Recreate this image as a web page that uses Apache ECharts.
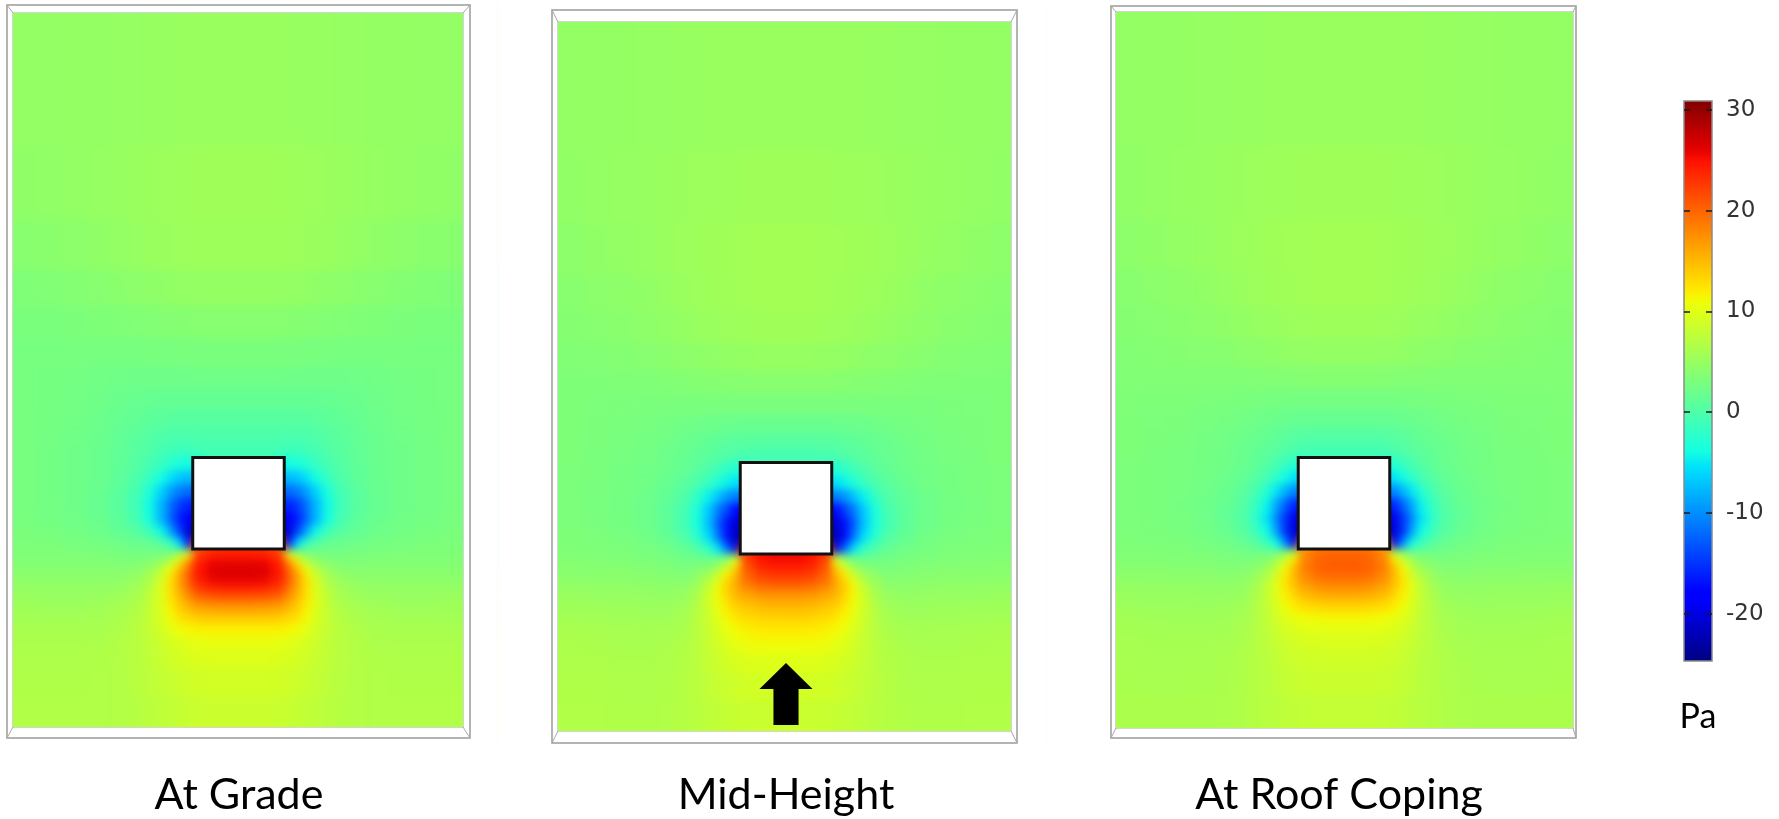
<!DOCTYPE html>
<html>
<head>
<meta charset="utf-8">
<script src="https://cdn.jsdelivr.net/npm/echarts@6/dist/echarts.min.js"></script>
<style>
  html, body { margin: 0; padding: 0; background: #fff; }
  #chart { width: 1779px; height: 819px; }
</style>
</head>
<body>
<div id="chart"></div>
<script>
// Wind pressure (Pa) on a horizontal cut around a square building, at three heights.
// Wind blows from the bottom of each panel. Lengths are in building widths:
// the building occupies x -0.5..0.5, y 0..1. Tables give the right half (x >= 0),
// the field is symmetric about x = 0. Rows run from the top of the panel downwards.

const panelTitles = ['At Grade', 'Mid-Height', 'At Roof Coping'];
const unitLabel = 'Pa';
const colorbarTicks = [30, 20, 10, 0, -10, -20];
const pressureMin = -24.7;
const pressureMax = 30.9;

// cell edges (building widths)
const colEdges = [0, 0.2, 0.35, 0.5, 0.6, 0.7, 0.8, 0.92, 1.05, 1.22, 1.42, 1.66, 1.94, 2.22, 2.75];
const rowEdges = [6.05, 4.4, 3.6, 3.05, 2.65, 2.3, 2.0, 1.75, 1.52, 1.32, 1.15, 1.0, 0.85, 0.7, 0.55,
  0.4, 0.25, 0.12, 0, -0.05, -0.12, -0.2, -0.28, -0.37, -0.47, -0.58, -0.7, -0.82, -0.95, -1.1, -1.3, -1.6, -2.15];

const building = [-0.5, 0.5, 0, 1];
const windArrow = [[0, -1.19], [0.29, -1.475], [0.137, -1.475], [0.137, -1.87],
  [-0.137, -1.87], [-0.137, -1.475], [-0.29, -1.475]];

const n = null;
const gradePressure = [
  [5.1,5.1,5.1,5.1,5.0,5.0,5.0,5.0,4.9,4.9,4.8,4.8,4.7,4.7],
  [5.5,5.5,5.5,5.4,5.4,5.3,5.3,5.2,5.1,5.0,4.9,4.7,4.6,4.5],
  [5.4,5.4,5.4,5.3,5.3,5.2,5.2,5.1,4.9,4.7,4.5,4.3,4.1,4.0],
  [4.8,4.8,4.8,4.7,4.7,4.6,4.5,4.4,4.3,4.1,3.9,3.7,3.5,3.4],
  [3.9,3.9,3.9,3.8,3.8,3.8,3.7,3.6,3.5,3.4,3.3,3.1,3.0,3.0],
  [3.0,3.0,3.0,3.0,3.0,2.9,2.9,2.9,2.8,2.8,2.8,2.8,2.8,2.8],
  [2.3,2.3,2.3,2.2,2.2,2.2,2.2,2.2,2.2,2.3,2.4,2.6,2.7,2.8],
  [1.5,1.5,1.5,1.5,1.5,1.5,1.5,1.6,1.7,1.9,2.2,2.5,2.7,2.8],
  [0.6,0.6,0.6,0.6,0.6,0.7,0.8,1.0,1.3,1.6,2.0,2.4,2.6,2.8],
  [-0.1,-0.1,-0.1,-0.2,-0.2,-0.1,0.1,0.5,0.9,1.4,1.9,2.3,2.6,2.8],
  [-0.7,-0.7,-0.8,-1.2,-1.3,-1.0,-0.5,0.1,0.7,1.3,1.8,2.2,2.5,2.8],
  [n,n,n,-4,-3.5,-2.6,-1.6,-0.5,0.5,1.2,1.8,2.2,2.5,2.8],
  [n,n,n,-7.5,-7,-5.5,-3.5,-1.6,0.1,1.1,1.8,2.2,2.5,2.8],
  [n,n,n,-12,-11,-9,-6,-3.2,-0.5,0.9,1.7,2.2,2.5,2.8],
  [n,n,n,-16,-14.5,-11.5,-7.5,-4,-0.9,0.8,1.7,2.2,2.5,2.8],
  [n,n,n,-19,-16,-12,-7.5,-3.6,-0.5,1.0,1.8,2.3,2.6,2.9],
  [n,n,n,-21,-14,-8.5,-4,-1.0,0.7,1.5,2.1,2.5,2.8,3.0],
  [n,n,n,-17,-6,-1.5,0.6,1.6,1.9,2.3,2.7,2.9,3.1,3.2],
  [23.5,23.3,22,6,3,2.4,2.4,2.3,2.5,2.8,3.0,3.2,3.3,3.35],
  [24.5,24.3,23,13,7.5,4.5,3.4,3.0,2.9,3.1,3.3,3.4,3.5,3.5],
  [26,25.8,24.3,18.5,12.5,8,5.3,4.0,3.5,3.5,3.6,3.7,3.7,3.7],
  [26.5,26.3,24.8,20,15.5,11,7.5,5.3,4.2,3.9,4.0,4.0,4.0,4.0],
  [26.2,26,24.5,20.5,16.5,12.5,8.8,6.2,4.9,4.4,4.3,4.3,4.3,4.3],
  [24.5,24.2,23,19.5,16,12.8,9.5,7.0,5.6,4.9,4.7,4.7,4.7,4.7],
  [21,20.8,20,17.5,15,12.5,9.8,7.5,6.1,5.4,5.1,5.0,5.0,5.1],
  [17,16.9,16.5,15.2,13.8,11.8,9.6,7.8,6.5,5.9,5.6,5.4,5.4,5.5],
  [14,14,13.8,13.2,12.6,11.1,9.4,8.0,6.9,6.3,5.9,5.8,5.8,5.8],
  [11.8,11.8,11.7,11.4,10.9,10.1,9.0,7.9,7.1,6.5,6.2,6.1,6.1,6.1],
  [10.5,10.5,10.4,10.1,9.7,9.2,8.5,7.8,7.1,6.7,6.4,6.3,6.3,6.3],
  [9.7,9.7,9.6,9.4,9.1,8.7,8.2,7.7,7.2,6.8,6.6,6.5,6.5,6.5],
  [9.0,9.0,8.9,8.7,8.5,8.2,7.9,7.5,7.1,6.8,6.7,6.6,6.6,6.6],
  [8.4,8.4,8.3,8.2,8.0,7.8,7.6,7.3,7.0,6.8,6.7,6.7,6.7,6.7]
];

const midPressure = [
  [5.1,5.1,5.1,5.1,5.1,5.1,5.0,5.0,5.0,4.9,4.9,4.8,4.8,4.7],
  [5.5,5.5,5.5,5.4,5.4,5.4,5.3,5.3,5.2,5.1,5.0,4.9,4.7,4.6],
  [5.8,5.8,5.7,5.7,5.6,5.6,5.5,5.4,5.3,5.1,4.9,4.7,4.5,4.3],
  [5.8,5.8,5.7,5.6,5.6,5.5,5.4,5.3,5.1,4.9,4.6,4.4,4.2,4.0],
  [5.5,5.5,5.4,5.3,5.3,5.2,5.1,5.0,4.8,4.6,4.4,4.1,3.9,3.8],
  [4.9,4.9,4.8,4.8,4.7,4.6,4.5,4.4,4.3,4.1,3.9,3.7,3.6,3.5],
  [4.0,4.0,4.0,3.9,3.9,3.8,3.8,3.7,3.6,3.5,3.4,3.4,3.3,3.3],
  [3.0,3.0,3.0,3.0,3.0,3.0,3.0,3.0,3.0,3.0,3.0,3.1,3.2,3.3],
  [1.8,1.8,1.8,1.9,1.9,2.0,2.1,2.2,2.4,2.6,2.8,3.0,3.1,3.3],
  [0.6,0.6,0.7,0.8,0.9,1.1,1.3,1.6,1.9,2.3,2.6,2.9,3.1,3.3],
  [-0.6,-0.6,-0.4,-0.2,0.1,0.5,0.9,1.3,1.7,2.1,2.5,2.8,3.0,3.3],
  [n,n,n,-3,-2,-1,0,0.8,1.5,2.0,2.4,2.7,3.0,3.2],
  [n,n,n,-5.5,-4.5,-3,-1.5,-0.2,0.9,1.7,2.3,2.7,3.0,3.2],
  [n,n,n,-11,-9.5,-7,-4.5,-1.8,0.2,1.3,2.1,2.6,2.9,3.2],
  [n,n,n,-18,-14,-11,-6.5,-3.2,-0.4,1.1,2.0,2.6,2.9,3.2],
  [n,n,n,-21,-17,-12.5,-7,-3.5,-0.5,1.1,2.1,2.7,3.0,3.2],
  [n,n,n,-22,-17,-11,-5.5,-2.2,0.2,1.5,2.4,2.9,3.1,3.3],
  [n,n,n,-20,-12,-5.5,-2,0.2,1.5,2.3,2.8,3.1,3.3,3.4],
  [25.5,25,23,6,2.5,1.5,1.5,1.8,2.1,2.7,3.1,3.3,3.45,3.55],
  [25,24.5,22,10.5,5,2.8,2.3,2.4,2.6,3.0,3.3,3.5,3.6,3.7],
  [24,23.5,21,14,9.5,6,4.2,3.5,3.1,3.4,3.6,3.8,3.9,3.9],
  [22.5,22,20,15.5,12,8.5,5.8,4.3,3.6,3.8,4.0,4.1,4.1,4.2],
  [21,20.5,19,16,13.5,10.5,7.3,5.2,4.1,4.2,4.3,4.4,4.4,4.5],
  [18,17.8,16.8,15.5,13.5,11.2,8.3,6.0,4.8,4.6,4.7,4.8,4.8,4.9],
  [16,15.8,15,14.3,12.8,11,8.7,6.6,5.3,5.0,5.1,5.2,5.2,5.3],
  [14.3,14.1,13.6,13,11.8,10.3,8.6,7.0,5.8,5.4,5.4,5.5,5.6,5.6],
  [12.9,12.8,12.4,11.8,11,9.8,8.4,7.1,6.1,5.8,5.8,5.8,5.9,6.0],
  [11.8,11.7,11.4,10.9,10.2,9.2,8.1,7.1,6.4,6.1,6.0,6.1,6.2,6.3],
  [10.8,10.7,10.5,10.1,9.6,8.9,8.1,7.3,6.7,6.3,6.2,6.2,6.3,6.4],
  [9.8,9.7,9.6,9.3,8.9,8.5,7.9,7.3,6.8,6.5,6.4,6.4,6.5,6.5],
  [9.0,9.0,8.9,8.7,8.4,8.1,7.7,7.3,6.9,6.6,6.5,6.5,6.6,6.6],
  [8.3,8.3,8.2,8.1,7.9,7.7,7.5,7.2,6.9,6.7,6.6,6.6,6.7,6.7]
];

const roofPressure = [
  [5.1,5.1,5.1,5.1,5.1,5.1,5.0,5.0,5.0,4.9,4.9,4.8,4.8,4.7],
  [5.5,5.5,5.5,5.4,5.4,5.4,5.3,5.3,5.2,5.1,5.0,4.9,4.7,4.6],
  [5.8,5.8,5.7,5.7,5.6,5.6,5.5,5.4,5.3,5.1,4.9,4.7,4.5,4.3],
  [5.8,5.8,5.7,5.6,5.6,5.5,5.4,5.3,5.1,4.9,4.6,4.4,4.2,4.0],
  [5.4,5.4,5.3,5.3,5.2,5.1,5.0,4.9,4.7,4.5,4.3,4.1,3.9,3.8],
  [4.8,4.8,4.7,4.7,4.6,4.5,4.4,4.3,4.2,4.0,3.9,3.8,3.7,3.6],
  [3.8,3.8,3.8,3.7,3.7,3.7,3.6,3.6,3.5,3.5,3.5,3.5,3.5,3.5],
  [2.7,2.7,2.7,2.7,2.7,2.8,2.8,2.9,3.0,3.1,3.2,3.3,3.3,3.4],
  [1.6,1.6,1.6,1.7,1.8,1.9,2.1,2.3,2.5,2.7,2.9,3.1,3.2,3.3],
  [0.4,0.4,0.5,0.7,0.9,1.2,1.5,1.8,2.1,2.4,2.7,3.0,3.1,3.3],
  [-0.7,-0.7,-0.5,-0.2,0.2,0.7,1.1,1.5,1.9,2.3,2.6,2.9,3.1,3.3],
  [n,n,n,-2.5,-1.5,-0.4,0.5,1.2,1.8,2.2,2.6,2.9,3.0,3.2],
  [n,n,n,-5.5,-4,-2.2,-0.6,0.6,1.4,2.0,2.5,2.8,3.0,3.2],
  [n,n,n,-10.5,-8,-5.2,-2.5,-0.4,1.0,1.8,2.4,2.8,3.0,3.2],
  [n,n,n,-16,-12.5,-8.5,-4.3,-1.3,0.6,1.6,2.3,2.7,3.0,3.2],
  [n,n,n,-20,-15,-10,-5,-1.8,0.4,1.5,2.3,2.8,3.0,3.2],
  [n,n,n,-21,-15,-8.5,-3.8,-0.8,0.9,1.8,2.5,2.9,3.1,3.2],
  [n,n,n,-19,-10,-4,-1,0.8,1.8,2.4,2.8,3.1,3.2,3.3],
  [19.5,19.3,17.5,5.5,2.8,2.2,2.2,2.3,2.5,2.8,3.1,3.3,3.4,3.45],
  [20,19.7,18,11,6.5,4.0,3.0,2.7,2.8,3.1,3.3,3.5,3.6,3.6],
  [20.5,20.2,18.5,14,10,6.5,4.5,3.6,3.3,3.4,3.6,3.7,3.8,3.8],
  [20.3,20,18.5,15,11.5,8,5.7,4.4,3.8,3.8,3.9,4.0,4.1,4.1],
  [19.3,19,17.5,15,12.5,9.5,6.8,5.2,4.3,4.2,4.3,4.3,4.4,4.4],
  [17.7,17.4,16.3,14.3,12.3,10,7.6,5.8,4.8,4.6,4.6,4.7,4.7,4.8],
  [15.6,15.4,14.6,13.2,11.6,9.7,7.8,6.2,5.2,4.9,4.9,5.0,5.0,5.1],
  [13.3,13.2,12.7,11.9,10.8,9.3,7.8,6.5,5.6,5.3,5.2,5.3,5.3,5.4],
  [11.3,11.2,11.0,10.5,9.8,8.8,7.6,6.7,5.9,5.6,5.5,5.5,5.6,5.7],
  [10.2,10.1,10.0,9.6,9.1,8.4,7.5,6.8,6.2,5.8,5.7,5.7,5.8,5.9],
  [9.5,9.4,9.3,9.0,8.6,8.1,7.4,6.9,6.3,6.0,5.9,5.9,5.9,6.0],
  [8.9,8.8,8.7,8.5,8.2,7.8,7.3,6.9,6.5,6.2,6.0,6.0,6.0,6.1],
  [8.4,8.4,8.3,8.1,7.9,7.6,7.2,6.9,6.5,6.3,6.2,6.1,6.1,6.2],
  [7.9,7.9,7.8,7.7,7.5,7.3,7.1,6.9,6.6,6.4,6.3,6.3,6.3,6.3]
];

const panelPressure = [gradePressure, midPressure, roofPressure];

// ---- layout (pixels) ----
const unitPx = 91.5;
const panelLayout = [
  { inner: [13, 13, 463, 727], origin: [238.5, 549], outer: [7, 5, 470, 738], titleX: 239 },
  { inner: [558, 22, 1011, 731], origin: [786, 554], outer: [552, 10, 1017, 743], titleX: 786 },
  { inner: [1116, 12, 1573, 728], origin: [1344, 549], outer: [1111, 6, 1576, 738], titleX: 1339 }
];
const titleY = 795;
const barBox = { left: 1684, top: 101, width: 28, height: 560 };
const fieldSoftness = 4.5; // px, smooths the cell edges of the pressure field layer

// ---- jet colour map ----
const JET = {
  r: [[0, 0], [0.35, 0], [0.66, 1], [0.89, 1], [1, 0.5]],
  g: [[0, 0], [0.125, 0], [0.375, 1], [0.64, 1], [0.91, 0], [1, 0]],
  b: [[0, 0.5], [0.11, 1], [0.34, 1], [0.65, 0], [1, 0]]
};
function channel(pts, t) {
  for (let i = 1; i < pts.length; i++) {
    if (t <= pts[i][0]) {
      const [t0, v0] = pts[i - 1], [t1, v1] = pts[i];
      return v0 + (v1 - v0) * (t - t0) / (t1 - t0);
    }
  }
  return pts[pts.length - 1][1];
}
function jet(t) {
  return 'rgb(' + [JET.r, JET.g, JET.b].map(p => Math.round(255 * channel(p, t))).join(',') + ')';
}
const jetColors = Array.from({ length: 65 }, (_, i) => jet(i / 64));

// ---- cells: [x0, x1, y0, y1, pressure], mirrored about x = 0 ----
// Cells next to the building reach a little under it so its white face sits on solid colour.
const TUCK = 0.12;
function cells(table) {
  const out = [];
  const nR = table.length, nC = colEdges.length - 1;
  const isHole = (r, c) => r >= 0 && r < nR && c >= 0 && c < nC && table[r][c] === null;
  table.forEach((row, r) => {
    row.forEach((v, c) => {
      if (v === null) return;
      let yTop = rowEdges[r], yBot = rowEdges[r + 1];
      let a = colEdges[c];
      const b = colEdges[c + 1];
      if (isHole(r - 1, c)) yTop += TUCK;
      if (isHole(r + 1, c)) yBot -= TUCK;
      if (isHole(r, c - 1)) a -= TUCK;
      out.push([a, b, yBot, yTop, v]);
      out.push([-b, -a, yBot, yTop, v]);
    });
  });
  return out;
}

function rectOf(api) {
  const p0 = api.coord([api.value(0), api.value(3)]);
  const p1 = api.coord([api.value(1), api.value(2)]);
  return { x: p0[0], y: p0[1], width: p1[0] - p0[0], height: p1[1] - p0[1] };
}

function renderCell(params, api) {
  const color = api.visual('color');
  return { type: 'rect', shape: rectOf(api), style: { fill: color, stroke: color, lineWidth: 1 } };
}

function renderBuilding(params, api) {
  return { type: 'rect', shape: rectOf(api), style: { fill: '#ffffff', stroke: '#111111', lineWidth: 3 } };
}

const grids = [], xAxes = [], yAxes = [], series = [], graphics = [];

panelLayout.forEach((p, i) => {
  const [l, t, r, b] = p.inner;
  grids.push({ left: l, top: t, width: r - l, height: b - t });
  xAxes.push({ gridIndex: i, type: 'value', show: false,
    min: (l - p.origin[0]) / unitPx, max: (r - p.origin[0]) / unitPx });
  yAxes.push({ gridIndex: i, type: 'value', show: false,
    min: (p.origin[1] - b) / unitPx, max: (p.origin[1] - t) / unitPx });
});

// pressure fields (zlevel 0, their own layer)
panelPressure.forEach((table, i) => {
  series.push({
    type: 'custom', name: panelTitles[i], xAxisIndex: i, yAxisIndex: i,
    renderItem: renderCell, data: cells(table), clip: false, silent: true,
    encode: { x: [0, 1], y: [2, 3] }, zlevel: 0, z: 2
  });
});
// buildings and wind arrow (zlevel 1)
panelPressure.forEach((table, i) => {
  series.push({
    type: 'custom', xAxisIndex: i, yAxisIndex: i, renderItem: renderBuilding,
    data: [building], silent: true, encode: { x: [0, 1], y: [2, 3] }, zlevel: 1, z: 5
  });
});
series.push({
  type: 'custom', xAxisIndex: 1, yAxisIndex: 1, silent: true, zlevel: 1, z: 6,
  data: [0],
  renderItem: (params, api) => ({
    type: 'polygon',
    shape: { points: windArrow.map(pt => api.coord(pt)) },
    style: { fill: '#000000' }
  })
});

// colour bar
grids.push({ left: barBox.left, top: barBox.top, width: barBox.width, height: barBox.height });
xAxes.push({ gridIndex: 3, type: 'value', min: 0, max: 1, show: false });
const barTick = { show: true, inside: true, length: 6, lineStyle: { color: '#1a1a1a', width: 1.5 }, customValues: colorbarTicks };
yAxes.push({ gridIndex: 3, type: 'value', min: pressureMin, max: pressureMax, position: 'left', zlevel: 1, z: 10,
  axisLine: { show: false }, splitLine: { show: false }, axisLabel: { show: false }, axisTick: barTick });
yAxes.push({ gridIndex: 3, type: 'value', min: pressureMin, max: pressureMax, position: 'right', zlevel: 1, z: 10,
  axisLine: { show: false }, splitLine: { show: false }, axisTick: barTick,
  axisLabel: { show: true, customValues: colorbarTicks, margin: 14,
    fontFamily: 'DejaVu Sans', fontSize: 23, color: '#333333' } });
series.push({
  type: 'custom', xAxisIndex: 3, yAxisIndex: 3, silent: true, zlevel: 1, z: 2,
  data: [[0, 1, pressureMin, pressureMax]],
  renderItem: (params, api) => ({
    type: 'rect',
    shape: rectOf(api),
    style: {
      fill: new echarts.graphic.LinearGradient(0, 1, 0, 0,
        jetColors.map((c, k) => ({ offset: k / (jetColors.length - 1), color: c }))),
      stroke: '#8a8a8a', lineWidth: 1.5
    }
  })
});

// white surround of each panel, then the frame (box outline with bevelled corners)
panelLayout.forEach((p) => {
  const [ol, ot, or, ob] = p.outer;
  const [il, it, ir, ib] = p.inner;
  const m = 34;
  [[il - m, it - m, ir - il + 2 * m, m], [il - m, ib, ir - il + 2 * m, m],
   [il - m, it, m, ib - it], [ir, it, m, ib - it]].forEach(s => {
    graphics.push({ type: 'rect', silent: true, zlevel: 1, z: 0,
      shape: { x: s[0], y: s[1], width: s[2], height: s[3] }, style: { fill: '#ffffff' } });
  });
  graphics.push({ type: 'rect', silent: true, zlevel: 1, z: 1,
    shape: { x: ol, y: ot, width: or - ol, height: ob - ot },
    style: { fill: 'none', stroke: '#9a9a9a', lineWidth: 1.5 } });
  graphics.push({ type: 'rect', silent: true, zlevel: 1, z: 1,
    shape: { x: il - 0.5, y: it - 0.5, width: ir - il + 1, height: ib - it + 1 },
    style: { fill: 'none', stroke: '#d4d4d4', lineWidth: 1 } });
  [[ol, ot, il, it], [or, ot, ir, it], [ol, ob, il, ib], [or, ob, ir, ib]].forEach(s => {
    graphics.push({ type: 'line', silent: true, zlevel: 1, z: 1,
      shape: { x1: s[0], y1: s[1], x2: s[2], y2: s[3] },
      style: { stroke: '#a8a8a8', lineWidth: 1 } });
  });
});
panelTitles.forEach((txt, i) => {
  graphics.push({ type: 'text', silent: true, zlevel: 1, z: 2, x: panelLayout[i].titleX, y: titleY,
    style: { text: txt, fill: '#000000', font: '43px Lato', align: 'center', verticalAlign: 'middle' } });
});
graphics.push({ type: 'text', silent: true, zlevel: 1, z: 2, x: barBox.left + barBox.width / 2, y: 717,
  style: { text: unitLabel, fill: '#000000', font: '34px Lato', align: 'center', verticalAlign: 'middle' } });

const chart = echarts.init(document.getElementById('chart'), null, { renderer: 'canvas' });
chart.setOption({
  backgroundColor: '#ffffff',
  animation: false,
  grid: grids,
  xAxis: xAxes,
  yAxis: yAxes,
  visualMap: {
    type: 'continuous', show: false, dimension: 4, seriesIndex: [0, 1, 2],
    min: pressureMin, max: pressureMax, inRange: { color: jetColors }
  },
  graphic: { elements: graphics },
  series: series
});

// soften the pressure-field layer so the cells read as a continuous field
const fieldLayer = document.querySelector('#chart canvas[data-zr-dom-id="zr_0"]');
if (fieldLayer) fieldLayer.style.filter = 'blur(' + fieldSoftness + 'px)';
</script>
</body>
</html>
